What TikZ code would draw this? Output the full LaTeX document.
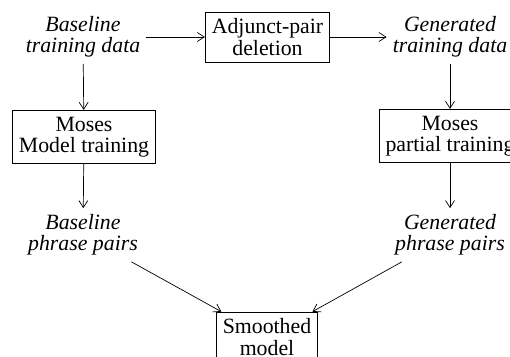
\documentclass[tikz,border=0pt]{standalone}
\usepackage{fontspec}
\setmainfont{Liberation Serif}
\usetikzlibrary{arrows.meta}
\begin{document}
\begin{tikzpicture}[x=1pt,y=-1pt,
  every node/.style={font=\fontsize{21.8}{21.5}\selectfont, align=center, inner sep=6pt},
  proc/.style={draw, line width=0.8pt, inner sep=6.5pt},
  data/.style={font=\fontsize{21.8}{21.5}\selectfont\itshape},
  conn/.style={line width=0.7pt, -{Straight Barb[length=7pt,width=9pt]}}]
\useasboundingbox (0,0) rectangle (510,356);
\node[data] (bt) at (83,37) {Baseline\\training data};
\node[proc] (adj) at (267.5,37) {Adjunct-pair\\deletion};
\node[data] (gt) at (450,37) {Generated\\training data};
\node[proc] (mm) at (84,137) {Moses\\Model training};
\node[proc] (mp) at (450,136) {Moses\\partial training};
\node[data] (bp) at (83,235) {Baseline\\phrase pairs};
\node[data] (gp) at (450,235) {Generated\\phrase pairs};
\node[proc] (sm) at (267,337) {Smoothed\\model};
\draw[conn] (bt) -- (adj);
\draw[conn] (adj) -- (gt);
\draw[conn] (bt) -- (mm);
\draw[conn] (gt) -- (mp);
\draw[conn] (mm) -- (bp);
\draw[conn] (mp) -- (gp);
\draw[conn] (bp) -- (sm);
\draw[conn] (gp) -- (sm);
\end{tikzpicture}
\end{document}
